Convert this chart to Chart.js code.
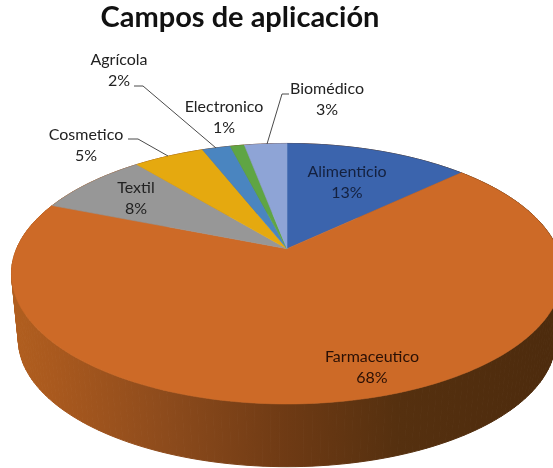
<!DOCTYPE html>
<html>
<head>
<meta charset="utf-8">
<title>Campos de aplicación</title>
<script src="https://cdn.jsdelivr.net/npm/chart.js@4"></script>
<style>
  html, body { margin: 0; padding: 0; background: #fff; }
  canvas { display: block; }
</style>
</head>
<body>
<canvas id="chart" width="553" height="468"></canvas>
<script>
const categories = ['Alimenticio', 'Farmaceutico', 'Textil', 'Cosmetico', 'Agrícola', 'Electronico', 'Biomédico'];
const shares = [13, 68, 8, 5, 2, 1, 3];
const sliceColors = ['#3b64ad', '#cd6a27', '#979797', '#e5a90f', '#4a85c0', '#5fa544', '#8ea4d6'];

// label centres, same order as categories
const labelSpots = [[347, 172], [372, 357], [136, 188], [86, 135], [119, 60], [224, 107], [327, 89]];
const leaders = [
  [[134, 86], [143, 86], [216, 148]],
  [[128, 139], [138, 139], [168, 156]],
  [[289, 94], [282, 94], [267, 144]],
];

// tilt of the pie: the near side comes out bigger than the far side
const tilt = { rx: 1.33, ry: 0.617, k: -0.192, depth: 66, shrink: 0.975, midY: 25 };

function project(arc, angle, lower) {
  const u = Math.cos(angle);
  const v = Math.sin(angle);
  const w = 1 + tilt.k * v;
  let x = tilt.rx * arc.outerRadius * u / w;
  let y = tilt.ry * arc.outerRadius * v / w;
  if (lower) {
    x *= tilt.shrink;
    y = (y - tilt.midY) * tilt.shrink + tilt.midY + tilt.depth;
  }
  return [arc.x + x, arc.y + y];
}

function sampleAngles(arc) {
  const steps = Math.max(4, Math.ceil((arc.endAngle - arc.startAngle) * 40));
  const out = [];
  for (let i = 0; i <= steps; i++) out.push(arc.startAngle + (arc.endAngle - arc.startAngle) * i / steps);
  return out;
}

const tiltedPie = {
  id: 'tiltedPie',
  beforeDatasetsDraw(chart) {
    const ctx = chart.ctx;
    const arcs = chart.getDatasetMeta(0).data;

    const wall = ctx.createLinearGradient(0, 0, chart.width, 0);
    wall.addColorStop(0, '#b3601f');
    wall.addColorStop(0.1, '#a9591e');
    wall.addColorStop(0.3, '#8d4b1c');
    wall.addColorStop(0.52, '#6e3a14');
    wall.addColorStop(0.72, '#55300f');
    wall.addColorStop(1, '#4d2b0d');

    // wall goes step by step so the outline stays closed at the far left and right
    ctx.fillStyle = wall;
    ctx.strokeStyle = wall;
    ctx.lineWidth = 1;
    arcs.forEach((arc) => {
      const angles = sampleAngles(arc);
      for (let i = 0; i < angles.length - 1; i++) {
        ctx.beginPath();
        ctx.moveTo(...project(arc, angles[i], false));
        ctx.lineTo(...project(arc, angles[i + 1], false));
        ctx.lineTo(...project(arc, angles[i + 1], true));
        ctx.lineTo(...project(arc, angles[i], true));
        ctx.closePath();
        ctx.fill();
        ctx.stroke();
      }
    });

    arcs.forEach((arc, i) => {
      ctx.beginPath();
      ctx.moveTo(arc.x, arc.y);
      sampleAngles(arc).forEach((a) => ctx.lineTo(...project(arc, a, false)));
      ctx.closePath();
      ctx.fillStyle = sliceColors[i];
      ctx.strokeStyle = sliceColors[i];
      ctx.lineWidth = 0.6;
      ctx.fill();
      ctx.stroke();
    });
    return false;
  },
  afterDraw(chart) {
    const ctx = chart.ctx;
    ctx.strokeStyle = '#4a4a4a';
    ctx.lineWidth = 1;
    leaders.forEach((line) => {
      ctx.beginPath();
      line.forEach((p) => ctx.lineTo(p[0], p[1]));
      ctx.stroke();
    });

    ctx.font = '16px Lato';
    ctx.textAlign = 'center';
    ctx.textBaseline = 'middle';
    categories.forEach((name, i) => {
      const [x, y] = labelSpots[i];
      ctx.fillStyle = i === 0 ? '#14213f' : i === 1 ? '#2a1005' : '#222';
      ctx.fillText(name, x, y);
      ctx.fillText(shares[i] + '%', x, y + 21);
    });
  },
  afterLayout(chart) {
    // the title sits left of the pie centre
    chart.titleBlock.left -= 47;
    chart.titleBlock.right -= 47;
  },
};

new Chart(document.getElementById('chart'), {
  type: 'pie',
  data: {
    labels: categories,
    datasets: [{ data: shares, backgroundColor: sliceColors, borderWidth: 0 }],
  },
  plugins: [tiltedPie],
  options: {
    responsive: false,
    animation: false,
    layout: { padding: { left: 21, bottom: 16 } },
    plugins: {
      legend: { display: false },
      tooltip: { enabled: false },
      title: {
        display: true,
        text: 'Campos de aplicación',
        color: '#111',
        font: { family: 'Lato', size: 29, weight: 'bold' },
        padding: { top: 0, bottom: 10.6 },
      },
    },
  },
});
</script>
</body>
</html>
